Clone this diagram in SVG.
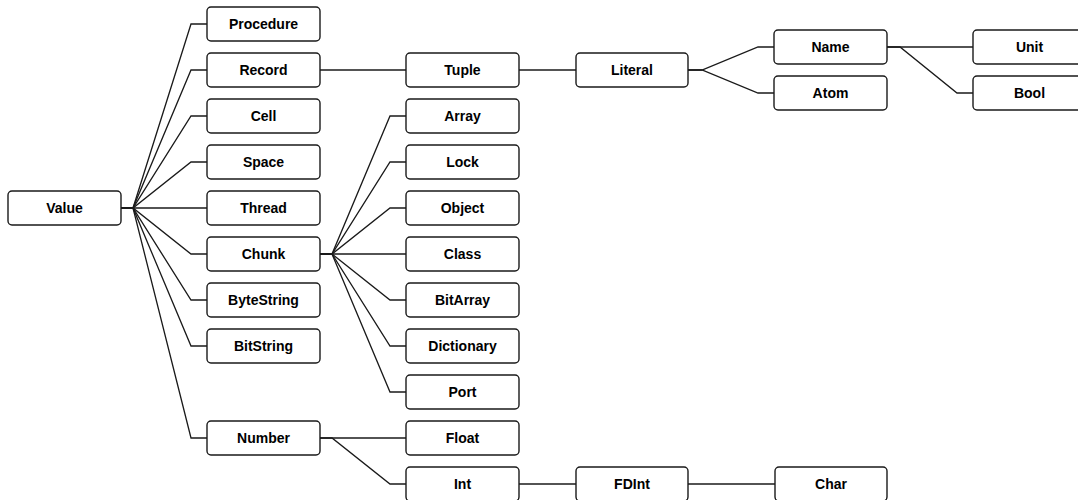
<svg xmlns="http://www.w3.org/2000/svg" width="1078" height="500" viewBox="0 0 1078 500">
<style>
.n rect{fill:#fff;stroke:#1a1a1a;stroke-width:1.4}
.n text{font-family:"Liberation Sans",Arial,sans-serif;font-weight:bold;font-size:14px;fill:#000;text-anchor:middle;dominant-baseline:central}
.c path{fill:none;stroke:#1a1a1a;stroke-width:1.3}
</style>
<rect width="1078" height="500" fill="#fff"/>
<g class="c" id="connectors">
<path d="M121,208H133L191,24H207"/>
<path d="M121,208H133L191,70H207"/>
<path d="M121,208H133L191,116H207"/>
<path d="M121,208H133L191,162H207"/>
<path d="M121,208H207"/>
<path d="M121,208H133L191,254H207"/>
<path d="M121,208H133L191,300H207"/>
<path d="M121,208H133L191,346H207"/>
<path d="M121,208H133L191,438H207"/>
<path d="M320,70H406"/>
<path d="M519,70H576"/>
<path d="M688,70H702L758,47H774"/>
<path d="M688,70H702L758,93H774"/>
<path d="M887,47H973"/>
<path d="M887,47H900L957,93H973"/>
<path d="M320,254H332L390,116H406"/>
<path d="M320,254H332L390,162H406"/>
<path d="M320,254H332L390,208H406"/>
<path d="M320,254H406"/>
<path d="M320,254H332L390,300H406"/>
<path d="M320,254H332L390,346H406"/>
<path d="M320,254H332L390,392H406"/>
<path d="M320,438H406"/>
<path d="M320,438H332L390,484H406"/>
<path d="M519,484H576"/>
<path d="M688,484H775"/>
</g>
<g class="n" id="value"><rect x="8" y="191" width="113" height="34" rx="4"/><text x="64.5" y="208">Value</text></g>
<g class="n" id="procedure"><rect x="207" y="7" width="113" height="34" rx="4"/><text x="263.5" y="24">Procedure</text></g>
<g class="n" id="record"><rect x="207" y="53" width="113" height="34" rx="4"/><text x="263.5" y="70">Record</text></g>
<g class="n" id="cell"><rect x="207" y="99" width="113" height="34" rx="4"/><text x="263.5" y="116">Cell</text></g>
<g class="n" id="space"><rect x="207" y="145" width="113" height="34" rx="4"/><text x="263.5" y="162">Space</text></g>
<g class="n" id="thread"><rect x="207" y="191" width="113" height="34" rx="4"/><text x="263.5" y="208">Thread</text></g>
<g class="n" id="chunk"><rect x="207" y="237" width="113" height="34" rx="4"/><text x="263.5" y="254">Chunk</text></g>
<g class="n" id="bytestring"><rect x="207" y="283" width="113" height="34" rx="4"/><text x="263.5" y="300">ByteString</text></g>
<g class="n" id="bitstring"><rect x="207" y="329" width="113" height="34" rx="4"/><text x="263.5" y="346">BitString</text></g>
<g class="n" id="number"><rect x="207" y="421" width="113" height="34" rx="4"/><text x="263.5" y="438">Number</text></g>
<g class="n" id="tuple"><rect x="406" y="53" width="113" height="34" rx="4"/><text x="462.5" y="70">Tuple</text></g>
<g class="n" id="array"><rect x="406" y="99" width="113" height="34" rx="4"/><text x="462.5" y="116">Array</text></g>
<g class="n" id="lock"><rect x="406" y="145" width="113" height="34" rx="4"/><text x="462.5" y="162">Lock</text></g>
<g class="n" id="object"><rect x="406" y="191" width="113" height="34" rx="4"/><text x="462.5" y="208">Object</text></g>
<g class="n" id="class"><rect x="406" y="237" width="113" height="34" rx="4"/><text x="462.5" y="254">Class</text></g>
<g class="n" id="bitarray"><rect x="406" y="283" width="113" height="34" rx="4"/><text x="462.5" y="300">BitArray</text></g>
<g class="n" id="dictionary"><rect x="406" y="329" width="113" height="34" rx="4"/><text x="462.5" y="346">Dictionary</text></g>
<g class="n" id="port"><rect x="406" y="375" width="113" height="34" rx="4"/><text x="462.5" y="392">Port</text></g>
<g class="n" id="float"><rect x="406" y="421" width="113" height="34" rx="4"/><text x="462.5" y="438">Float</text></g>
<g class="n" id="int"><rect x="406" y="467" width="113" height="34" rx="4"/><text x="462.5" y="484">Int</text></g>
<g class="n" id="literal"><rect x="576" y="53" width="112" height="34" rx="4"/><text x="632" y="70">Literal</text></g>
<g class="n" id="fdint"><rect x="576" y="467" width="112" height="34" rx="4"/><text x="632" y="484">FDInt</text></g>
<g class="n" id="name"><rect x="774" y="30" width="113" height="34" rx="4"/><text x="830.5" y="47">Name</text></g>
<g class="n" id="atom"><rect x="774" y="76" width="113" height="34" rx="4"/><text x="830.5" y="93">Atom</text></g>
<g class="n" id="char"><rect x="775" y="467" width="112" height="34" rx="4"/><text x="831" y="484">Char</text></g>
<g class="n" id="unit"><rect x="973" y="30" width="113" height="34" rx="4"/><text x="1029.5" y="47">Unit</text></g>
<g class="n" id="bool"><rect x="973" y="76" width="113" height="34" rx="4"/><text x="1029.5" y="93">Bool</text></g>
</svg>
